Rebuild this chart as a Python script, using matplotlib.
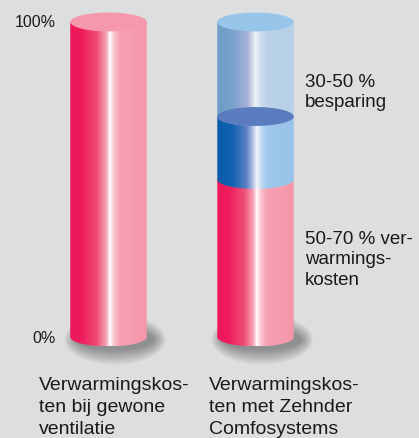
import matplotlib
matplotlib.use("Agg")
import matplotlib.pyplot as plt
import numpy as np
from matplotlib.colors import LinearSegmentedColormap
from matplotlib.patches import Ellipse, PathPatch
from matplotlib.path import Path

# data (percent of heating costs)
categories = [
    "Verwarmingskos-\nten bij gewone\nventilatie",
    "Verwarmingskos-\nten met Zehnder\nComfosystems",
]
heating_costs = [100, 50]
savings_solid = [0, 20]
savings_light = [0, 30]
tick_values = [0, 100]
tick_labels = ["0%", "100%"]
note_savings = "30-50 %\nbesparing"
note_costs = "50-70 % ver-\nwarmings-\nkosten"

BG = "#dddee0"
TXT = "#1a1a1a"
FONT = "Liberation Sans"

pink_stops = [(0, "#ed1659"), (0.15, "#ee1c5d"), (0.35, "#ef4d74"), (0.47, "#f6a3b5"),
              (0.52, "#ffffff"), (0.57, "#fac3cf"), (0.65, "#f7a1b3"), (1, "#f596aa")]
dark_stops = [(0, "#0a5caa"), (0.2, "#1262b0"), (0.38, "#5a7ec2"), (0.47, "#b8c4e4"),
              (0.52, "#f4f6fb"), (0.57, "#c4dcf2"), (0.65, "#a0c8ec"), (1, "#98c3ea")]
light_stops = [(0, "#6f9cc6"), (0.2, "#78a2cc"), (0.4, "#a9b1d6"), (0.5, "#eef2f7"),
               (0.56, "#d0e0ef"), (0.65, "#bcd3ea"), (1, "#b6d0e8")]

W = 0.52   # cylinder width (x units)
EH = 3.0   # half height of ellipse (y units)

fig = plt.figure(figsize=(4.19, 4.39), dpi=100, facecolor=BG)
ax = fig.add_axes([0, 0, 1, 1])
ax.set_facecolor(BG)
ax.axis("off")


def section(x, y0, y1, stops, z):
    cmap = LinearSegmentedColormap.from_list("c", stops)
    grad = np.linspace(0, 1, 256)[None, :]
    left, right = x - W / 2, x + W / 2
    t = np.linspace(np.pi, 2 * np.pi, 60)
    arc = np.column_stack([x + W / 2 * np.cos(t), y0 + EH * np.sin(t)])
    verts = np.vstack([[left, y1], arc, [right, y1], [left, y1]])
    codes = [Path.MOVETO] + [Path.LINETO] * (len(verts) - 2) + [Path.CLOSEPOLY]
    patch = PathPatch(Path(verts, codes), facecolor="none", edgecolor="none")
    ax.add_patch(patch)
    im = ax.imshow(grad, cmap=cmap, aspect="auto", extent=(left, right, y0 - EH, y1),
                   zorder=z, interpolation="bilinear")
    im.set_clip_path(patch)


def shadow(x):
    n = 14
    for k in range(n):
        f = 1 - k / n
        ax.add_patch(Ellipse((x + 0.045, -0.8), W + 0.17 * f, 2 * EH + 10 * f,
                             facecolor="black", edgecolor="none", alpha=0.028, zorder=1))


for i in range(len(categories)):
    shadow(i)
    base = 0
    section(i, base, base + heating_costs[i], pink_stops, 2)
    base += heating_costs[i]
    top_color = "#f598ac"
    if savings_solid[i] > 0:
        section(i, base, base + savings_solid[i], dark_stops, 3)
        base += savings_solid[i]
    if savings_light[i] > 0:
        section(i, base, base + savings_light[i], light_stops, 4)
        ax.add_patch(Ellipse((i, heating_costs[i] + savings_solid[i]), W, 2 * EH,
                             facecolor="#5b7dc0", edgecolor="none", zorder=5))
        base += savings_light[i]
        top_color = "#98c5ea"
    ax.add_patch(Ellipse((i, base), W, 2 * EH, facecolor=top_color,
                         edgecolor="none", zorder=6))

ax.set_xlim(-0.738, 2.112)
ax.set_ylim(-32.06, 107.3)

for v, lab in zip(tick_values, tick_labels):
    ax.text(-0.358, v, lab, ha="right", va="center", fontsize=11.5, color=TXT, family=FONT)

ax.text(1.337, 83.8, note_savings, ha="left", va="top", fontsize=13.5,
        color=TXT, family=FONT, linespacing=1.26)
ax.text(1.337, 34.0, note_costs, ha="left", va="top", fontsize=13.5,
        color=TXT, family=FONT, linespacing=1.26)

label_x = [-0.473, 0.684]
for lx, lab in zip(label_x, categories):
    ax.text(lx, -12.3, lab, ha="left", va="top", fontsize=14, color=TXT,
            family=FONT, linespacing=1.4)

fig.savefig("out.png", dpi=100, facecolor=BG)
